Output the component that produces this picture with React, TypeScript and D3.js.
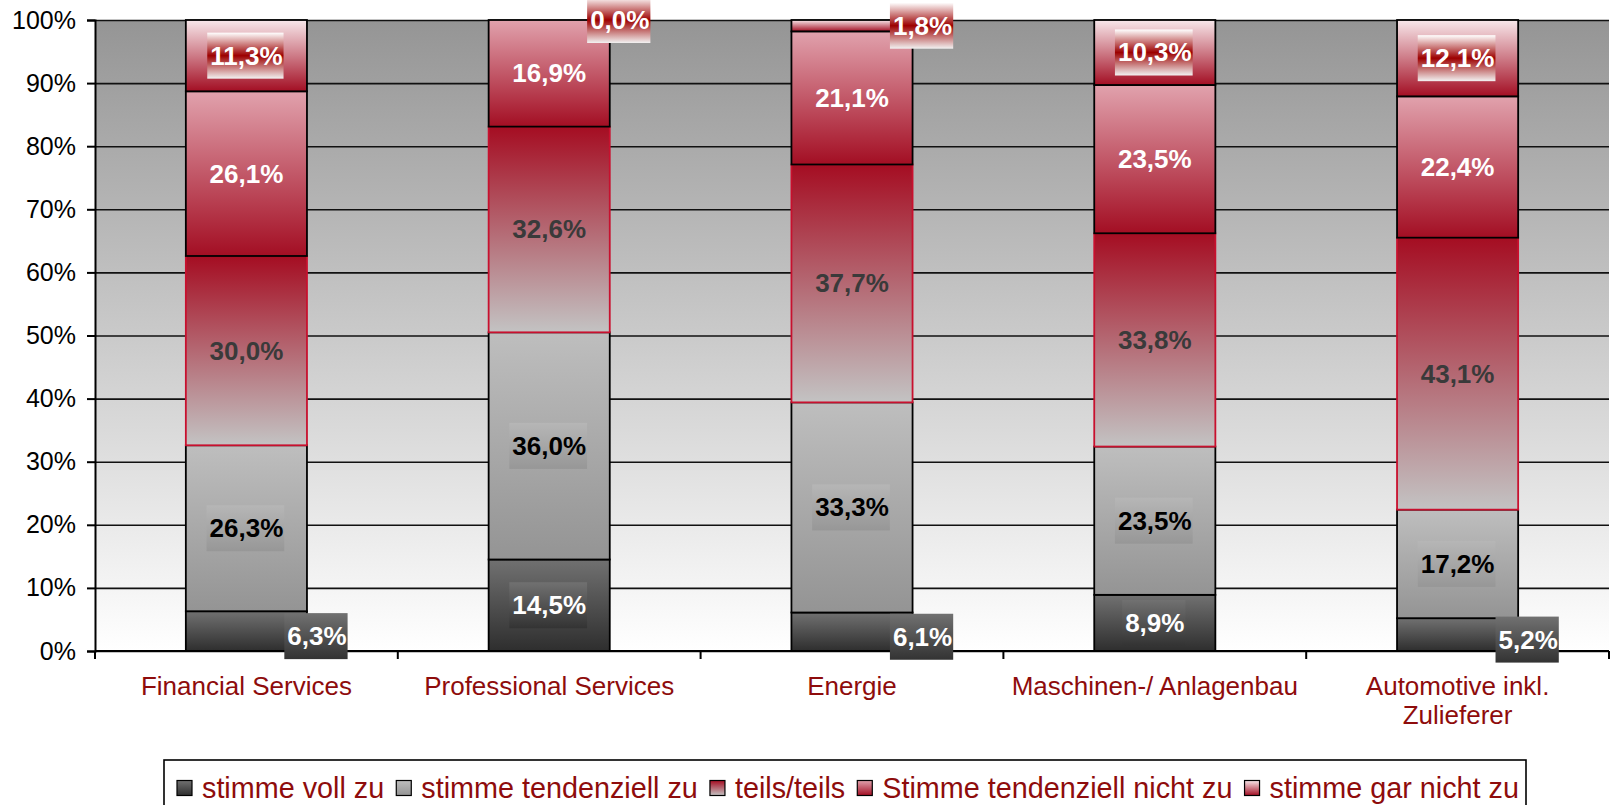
import { useEffect, useRef } from "react";
import * as d3 from "d3";

const categories = [
    "Financial Services",
    "Professional Services",
    "Energie",
    "Maschinen-/ Anlagenbau",
    "Automotive inkl.\nZulieferer",
];
const seriesNames = [
    "stimme voll zu",
    "stimme tendenziell zu",
    "teils/teils",
    "Stimme tendenziell nicht zu",
    "stimme gar nicht zu",
];
const vollZu = [6.3, 14.5, 6.1, 8.9, 5.2];
const tendenziellZu = [26.3, 36.0, 33.3, 23.5, 17.2];
const teilsTeils = [30.0, 32.6, 37.7, 33.8, 43.1];
const tendenziellNicht = [26.1, 16.9, 21.1, 23.5, 22.4];
const garNicht = [11.3, 0.0, 1.8, 10.3, 12.1];
const yTicks = [0, 10, 20, 30, 40, 50, 60, 70, 80, 90, 100];

// look of each series (bar gradient top -> bottom, outline, label)
const barGradients = [
    ["#717171", "#2e2e2e"],
    ["#bebebe", "#949494"],
    ["#a50d22", "#c3c3c3"],
    ["#e1a2ad", "#a30e23"],
    ["#f8e8eb", "#a30e23"],
];
const barStrokes = ["#000", "#000", "#c8102e", "#000", "#000"];
const labelColors = ["#fff", "#000", "#3a3a3a", "#fff", "#fff"];
const labelBoxes: (string[] | null)[] = [
    ["#717171", "#333333"],
    ["#b6b6b6", "#979797"],
    null,
    null,
    ["#ffffff", "#9c0000", "#f2f2f2"],
];

const W = 1611;
const H = 805;
const FONT = "Arial, 'Liberation Sans', sans-serif";
const RED_TEXT = "#8e0c0c";

const fmt = (v: number) => v.toFixed(1).replace(".", ",") + "%";

export default function App() {
    const svgRef = useRef<SVGSVGElement | null>(null);

    useEffect(() => {
        if (!svgRef.current) return;
        const svg = d3.select(svgRef.current);
        svg.selectAll("*").remove();

        const margin = { top: 20, right: 2, bottom: 154, left: 95 };
        const plotW = W - margin.left - margin.right;

        const x = d3
            .scaleBand()
            .domain(categories)
            .range([margin.left, W - margin.right])
            .paddingInner(0.6)
            .paddingOuter(0.3);
        const y = d3
            .scaleLinear()
            .domain([0, 100])
            .range([H - margin.bottom, margin.top]);

        const table = categories.map((c, i) => ({
            cat: c,
            s0: vollZu[i],
            s1: tendenziellZu[i],
            s2: teilsTeils[i],
            s3: tendenziellNicht[i],
            s4: garNicht[i],
        }));
        const keys = ["s0", "s1", "s2", "s3", "s4"];
        const stacked = d3.stack<any>().keys(keys)(table);

        const defs = svg.append("defs");
        const vGrad = (id: string, stops: string[]) => {
            const g = defs
                .append("linearGradient")
                .attr("id", id)
                .attr("x1", 0).attr("y1", 0).attr("x2", 0).attr("y2", 1);
            stops.forEach((c, i) =>
                g.append("stop")
                    .attr("offset", stops.length === 1 ? 0 : i / (stops.length - 1))
                    .attr("stop-color", c)
            );
        };
        vGrad("plotBg", ["#959595", "#ffffff"]);
        barGradients.forEach((g, i) => vGrad(`bar${i}`, g));
        labelBoxes.forEach((g, i) => g && vGrad(`lab${i}`, g));

        // plot background
        svg.append("rect")
            .attr("x", margin.left)
            .attr("y", y(100))
            .attr("width", plotW)
            .attr("height", y(0) - y(100))
            .attr("fill", "url(#plotBg)");

        // gridlines
        svg.append("g")
            .attr("transform", `translate(${margin.left},0)`)
            .call(d3.axisLeft(y).tickValues(yTicks).tickSize(-plotW).tickFormat(() => ""))
            .call(g => g.select(".domain").remove())
            .selectAll("line")
            .attr("stroke", "#111")
            .attr("stroke-width", 1.6);

        // bars
        stacked.forEach((layer, si) => {
            svg.append("g")
                .selectAll("rect")
                .data(layer)
                .enter()
                .append("rect")
                .attr("x", d => x(d.data.cat)!)
                .attr("width", x.bandwidth())
                .attr("y", d => y(d[1]))
                .attr("height", d => Math.max(0, y(d[0]) - y(d[1])))
                .attr("fill", `url(#bar${si})`)
                .attr("stroke", barStrokes[si])
                .attr("stroke-width", 1.8);
        });

        // y axis
        const yAxis = svg.append("g")
            .attr("transform", `translate(${margin.left},0)`)
            .call(d3.axisLeft(y).tickValues(yTicks).tickSize(8).tickPadding(11).tickFormat(d => `${d}%`));
        yAxis.select(".domain").attr("stroke", "#000").attr("stroke-width", 2);
        yAxis.selectAll("line").attr("stroke", "#000").attr("stroke-width", 2);
        yAxis.selectAll("text")
            .attr("font-family", FONT)
            .attr("font-size", 25)
            .attr("fill", "#000");

        // x axis baseline + boundary ticks
        const base = y(0);
        svg.append("line")
            .attr("x1", margin.left).attr("x2", W - margin.right)
            .attr("y1", base).attr("y2", base)
            .attr("stroke", "#000").attr("stroke-width", 2);
        const step = x.step();
        const first = x(categories[0])! - x.paddingOuter() * step;
        d3.range(categories.length + 1).forEach(i => {
            const bx = first + i * step;
            svg.append("line")
                .attr("x1", bx).attr("x2", bx)
                .attr("y1", base).attr("y2", base + 8)
                .attr("stroke", "#000").attr("stroke-width", 2);
        });
        categories.forEach(c => {
            const t = svg.append("text")
                .attr("x", x(c)! + x.bandwidth() / 2)
                .attr("y", base + 44)
                .attr("text-anchor", "middle")
                .attr("font-family", FONT)
                .attr("font-size", 26)
                .attr("fill", RED_TEXT);
            c.split("\n").forEach((line, li) => {
                t.append("tspan")
                    .attr("x", x(c)! + x.bandwidth() / 2)
                    .attr("dy", li === 0 ? 0 : 29)
                    .text(line);
            });
        });

        // data labels
        const boxH = 46;
        stacked.forEach((layer, si) => {
            layer.forEach(d => {
                const top = y(d[1]);
                const bottom = y(d[0]);
                const segH = bottom - top;
                let cx = x(d.data.cat)! + x.bandwidth() / 2;
                let cy = (top + bottom) / 2;
                if (segH < boxH) {
                    cx = x(d.data.cat)! + x.bandwidth() + 10;
                    cy = cy + (si === 0 ? 5 : 0);
                }
                const g = svg.append("g");
                const box = g.append("rect");
                const txt = g.append("text")
                    .attr("x", cx)
                    .attr("y", cy)
                    .attr("text-anchor", "middle")
                    .attr("dominant-baseline", "central")
                    .attr("font-family", FONT)
                    .attr("font-weight", "bold")
                    .attr("font-size", 26)
                    .attr("fill", labelColors[si])
                    .text(fmt(d[1] - d[0]));
                if (labelBoxes[si]) {
                    const tw = (txt.node() as SVGTextElement).getComputedTextLength();
                    box.attr("x", cx - tw / 2 - 3)
                        .attr("y", cy - boxH / 2)
                        .attr("width", tw + 4)
                        .attr("height", boxH)
                        .attr("fill", `url(#lab${si})`);
                } else {
                    box.remove();
                }
            });
        });

        // legend
        const legTop = 760;
        const legY = 788;
        const legStart = 177;
        const legEnd = 1519;
        const mark = 15;
        const markGap = 10;
        const itemGap = 12;
        const legend = svg.append("g");
        legend.append("rect")
            .attr("x", 164)
            .attr("y", legTop)
            .attr("width", 1526 - 164)
            .attr("height", 60)
            .attr("fill", "#fff")
            .attr("stroke", "#000")
            .attr("stroke-width", 1.6);
        const texts = seriesNames.map(n =>
            legend.append("text")
                .attr("font-family", FONT)
                .attr("font-size", 26)
                .attr("fill", RED_TEXT)
                .attr("dominant-baseline", "central")
                .attr("y", legY)
                .text(n)
        );
        const widths26 = texts.map(t => (t.node() as SVGTextElement).getComputedTextLength());
        const fixed = seriesNames.length * (mark + markGap) + (seriesNames.length - 1) * itemGap;
        const fs = 26 * (legEnd - legStart - fixed) / d3.sum(widths26);
        let cursor = legStart;
        texts.forEach((t, i) => {
            legend.append("rect")
                .attr("x", cursor)
                .attr("y", legY - mark / 2)
                .attr("width", mark)
                .attr("height", mark)
                .attr("fill", `url(#bar${i})`)
                .attr("stroke", "#000")
                .attr("stroke-width", 1.2);
            cursor += mark + markGap;
            t.attr("font-size", fs).attr("x", cursor);
            cursor += widths26[i] * fs / 26 + itemGap;
        });
    }, []);

    return (
        <svg
            ref={svgRef}
            width={W}
            height={H}
            style={{ position: "fixed", left: 0, top: 0, background: "#fff" }}
        />
    );
}
